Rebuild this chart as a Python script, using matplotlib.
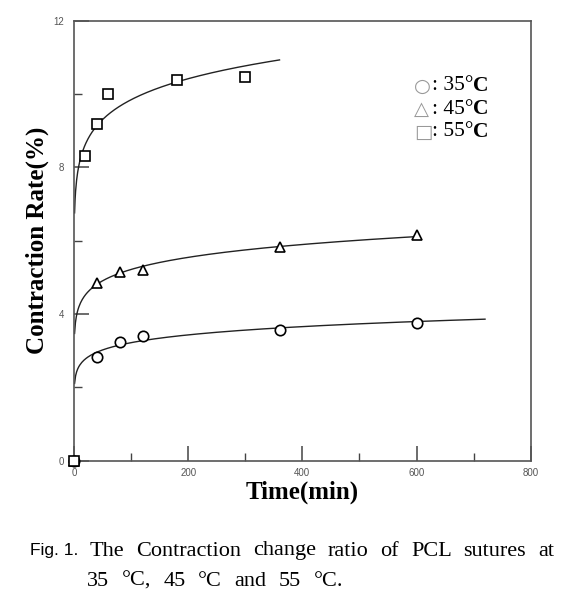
import numpy as np
import matplotlib
matplotlib.use("Agg")
import matplotlib.pyplot as plt
from matplotlib.ticker import MultipleLocator

# ---- data ----
t35 = [0, 40, 80, 120, 360, 600]
r35 = [0.0, 2.84, 3.24, 3.41, 3.56, 3.76]
t45 = [0, 40, 80, 120, 360, 600]
r45 = [0.0, 4.84, 5.15, 5.20, 5.84, 6.15]
t55 = [0, 20, 40, 60, 180, 300]
r55 = [0.0, 8.31, 9.18, 9.99, 10.38, 10.47]
fit_end = {"35": 720, "45": 600, "55": 360}

xticks = [0, 200, 400, 600, 800]
yticks = [0, 4, 8, 12]
legend_symbols = ["○", "△", "□"]
legend_labels = [": 35°", ": 45°", ": 55°"]

W, H = 572, 598
fig = plt.figure(figsize=(W/100, H/100), dpi=100)
ax = fig.add_axes([74/W, 1-460.7/H, (530.7-74)/W, (460.7-20.7)/H])

def power_fit(t, r, tmax):
    t = np.asarray(t[1:], float); r = np.asarray(r[1:], float)
    b, lna = np.polyfit(np.log(t), np.log(r), 1)
    xs = np.linspace(1, tmax, 400)
    return xs, np.exp(lna) * xs**b

for t, r, key, mk in [(t35, r35, "35", "o"), (t45, r45, "45", "^"), (t55, r55, "55", "s")]:
    xs, ys = power_fit(t, r, fit_end[key])
    ax.plot(xs, ys, color="#222222", lw=1.0, zorder=2)
    ax.plot(t, r, linestyle="none", marker=mk, markersize=7.5 if mk != "^" else 7,
            markerfacecolor="white", markeredgecolor="black", markeredgewidth=1.2, zorder=3,
            clip_on=False)

ax.set_xlim(0, 800)
ax.set_ylim(0, 12)
ax.set_xticks(xticks)
ax.set_yticks(yticks)
ax.xaxis.set_minor_locator(MultipleLocator(100))
ax.yaxis.set_minor_locator(MultipleLocator(2))
for s in ax.spines.values():
    s.set_color("#555555")
    s.set_linewidth(1.2)
ax.tick_params(which="major", direction="in", length=11, width=1.1, color="#444444",
               labelsize=7, labelcolor="#555555", top=False, right=False)
ax.tick_params(which="minor", direction="in", length=6, width=1.0, color="#444444",
               top=False, right=False)
ax.tick_params(axis="y", which="major", pad=7)
ax.tick_params(axis="x", which="major", pad=5)
for lab in ax.get_xticklabels() + ax.get_yticklabels():
    lab.set_family("Liberation Sans")

serif = "Liberation Serif"
fig.text(37.5/W, 1-240/H, "Contraction Rate(%)", rotation=90, fontsize=18, fontweight="bold",
         family=serif, ha="center", va="center")
fig.text(302/W, 1-492/H, "Time(min)", fontsize=18, fontweight="bold",
         family=serif, ha="center", va="center")

renderer = fig.canvas.get_renderer()

# legend as text
for i, (sym, txt) in enumerate(zip(legend_symbols, legend_labels)):
    y = 1 - (86 + 23*i)/H
    fig.text(414/W, y, sym, fontsize=14, color="#999999", family="DejaVu Sans", va="center", ha="left")
    t1 = fig.text(432/W, y, txt, fontsize=15.5, color="black", family=serif, va="center", ha="left")
    wpx = t1.get_window_extent(renderer).width
    fig.text((432 + wpx)/W, y, "C", fontsize=15.5, fontweight="bold", color="black",
             family=serif, va="center", ha="left")

# caption
fig.text(30/W, 1-551/H, "Fig. 1.", fontsize=12.5, family="Liberation Sans", va="center", ha="left")

def justified(words, x0, x1, ycen, size):
    arts = [fig.text(0, 1-ycen/H, w, fontsize=size, family=serif, va="center", ha="left") for w in words]
    widths = [a.get_window_extent(renderer).width for a in arts]
    gap = (x1 - x0 - sum(widths)) / (len(words) - 1)
    x = x0
    for a, w in zip(arts, widths):
        a.set_x(x/W)
        x += w + gap

justified("The Contraction change ratio of PCL sutures at".split(), 90, 554, 551, 16)
justified("35 °C, 45 °C and 55 °C.".split(), 87, 343, 581, 16)

fig.savefig("out.png", dpi=100)
